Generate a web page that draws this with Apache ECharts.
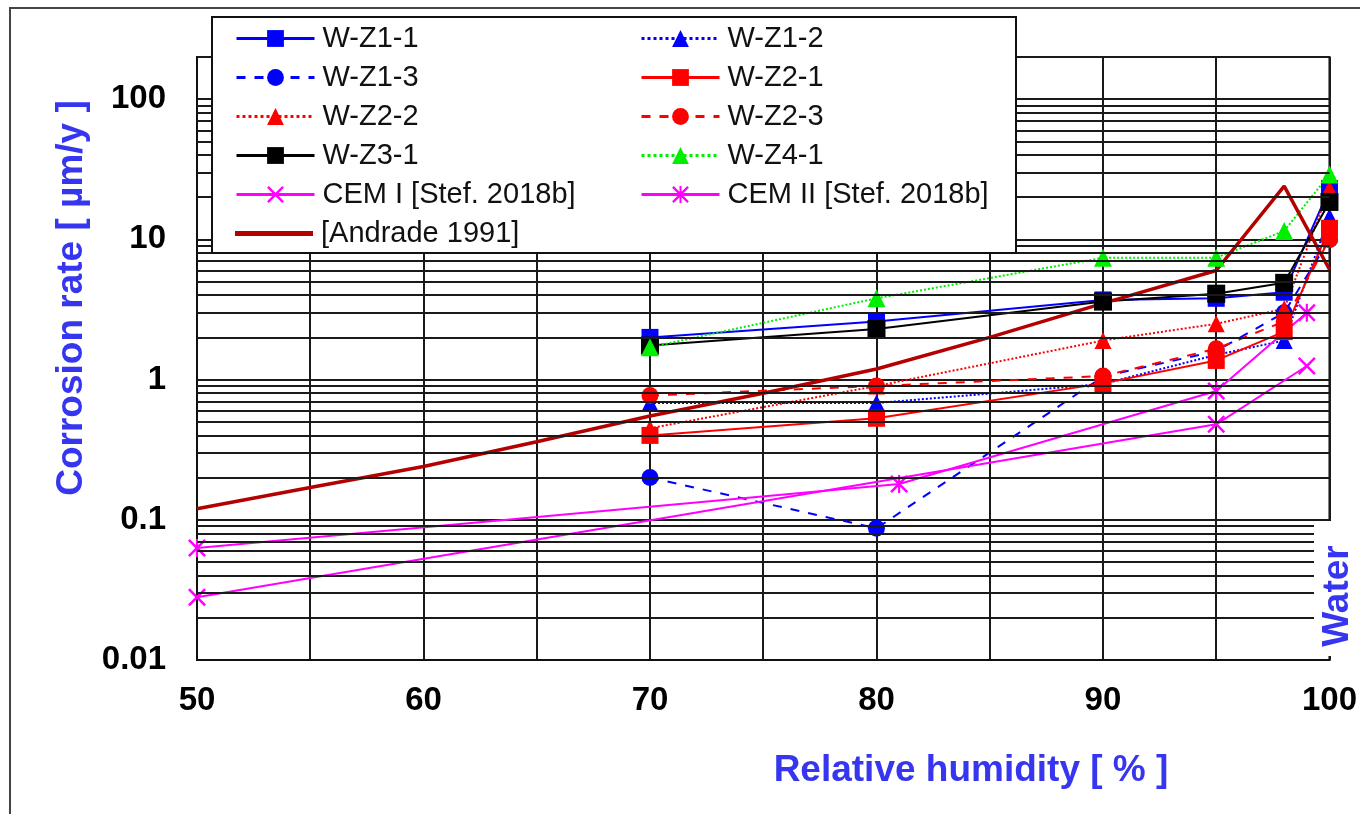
<!DOCTYPE html>
<html>
<head>
<meta charset="utf-8">
<script src="https://cdn.jsdelivr.net/npm/echarts@6/dist/echarts.min.js"></script>
<style>
html,body{margin:0;padding:0;background:#fff;}
#chart{width:1360px;height:814px;}
</style>
</head>
<body>
<div id="chart"></div>
<script>
// ---- data ----
const humidity = [70, 80, 90, 95, 98, 100];
const wZ1_1 = [2.0, 2.6, 3.7, 3.8, 4.2, 23];
const wZ1_2 = [0.68, 0.68, 0.93, 1.5, 1.9, 14.5];
const wZ1_3 = [0.20, 0.087, 1.05, 1.6, 3.0, 10];
const wZ2_1 = [0.40, 0.53, 0.94, 1.37, 2.2, 12];
const wZ2_2 = [0.45, 0.90, 1.9, 2.5, 3.2, 23];
const wZ2_3 = [0.77, 0.90, 1.06, 1.66, 2.6, 10];
const wZ3_1 = [1.75, 2.3, 3.6, 4.1, 4.9, 18.5];
const wZ4_1 = [1.7, 3.8, 7.4, 7.4, 11.5, 29];
const cem1X = [50, 95, 99];
const cem1Y = [0.028, 0.48, 1.25];
const cem2X = [50, 81, 95, 99];
const cem2Y = [0.063, 0.18, 0.83, 3.0];
const andradeX = [50, 55, 60, 65, 70, 75, 80, 85, 90, 95, 98, 100];
const andradeY = [0.12, 0.17, 0.24, 0.36, 0.55, 0.80, 1.19, 2.0, 3.5, 6.0, 24, 6.1];
const minorGrid = [0.02,0.03,0.04,0.05,0.06,0.07,0.08,0.09,
                   0.2,0.3,0.4,0.5,0.6,0.7,0.8,0.9,
                   2,3,4,5,6,7,8,9,
                   20,30,40,50,60,70,80,90];
const legendCol1 = ['W-Z1-1','W-Z1-3','W-Z2-2','W-Z3-1','CEM I [Stef. 2018b]'];
const legendCol2 = ['W-Z1-2','W-Z2-1','W-Z2-3','W-Z4-1','CEM II [Stef. 2018b]'];
const legendCol3 = ['[Andrade 1991]'];

const FONT = '"Liberation Sans", Arial, sans-serif';
const symX = 'path://M0,10 L10,0 L50,40 L90,0 L100,10 L60,50 L100,90 L90,100 L50,60 L10,100 L0,90 L40,50 Z';
const symAst = 'path://M0,10 L10,0 L50,40 L90,0 L100,10 L60,50 L100,90 L90,100 L50,60 L10,100 L0,90 L40,50 Z M44,0 L56,0 L56,100 L44,100 Z';

function pairs(xs, ys){ return xs.map((x,i)=>[x, ys[i]]); }

function mk(name, ys, color, type, symbol, size){
  return {
    name, type:'line', data: pairs(humidity, ys),
    symbol, symbolSize: size,
    lineStyle:{color, width:2, type},
    itemStyle:{color},
    z: 3
  };
}

const series = [
  {
    name:'minor', type:'line', data:[], silent:true, z:1,
    markLine:{silent:true, symbol:['none','none'], label:{show:false},
      lineStyle:{color:'#1a1a1a', width:2, type:'solid'},
      data: minorGrid.map(v=>({yAxis:v}))},
  },
  mk('W-Z1-1', wZ1_1, '#0000ff', 'solid', 'rect', 17),
  mk('W-Z1-2', wZ1_2, '#0000ff', 'dotted', 'triangle', 17),
  mk('W-Z1-3', wZ1_3, '#0000ff', [9,9], 'circle', 17),
  mk('W-Z2-1', wZ2_1, '#ff0000', 'solid', 'rect', 17),
  mk('W-Z2-2', wZ2_2, '#ff0000', 'dotted', 'triangle', 17),
  mk('W-Z2-3', wZ2_3, '#ff0000', [9,9], 'circle', 17),
  mk('W-Z3-1', wZ3_1, '#000000', 'solid', 'rect', 18),
  mk('W-Z4-1', wZ4_1, '#00ee00', 'dotted', 'triangle', 18),
  {
    name:'CEM I [Stef. 2018b]', type:'line', data: pairs(cem1X, cem1Y),
    symbol: symX, symbolSize: 18, lineStyle:{color:'#ff00ff', width:2},
    itemStyle:{color:'#ff00ff'}, z:3
  },
  {
    name:'CEM II [Stef. 2018b]', type:'line', data: pairs(cem2X, cem2Y),
    symbol: symAst, symbolSize: 18, lineStyle:{color:'#ff00ff', width:2},
    itemStyle:{color:'#ff00ff'}, z:3
  },
  {
    name:'[Andrade 1991]', type:'line', data: pairs(andradeX, andradeY),
    symbol:'none', lineStyle:{color:'#b40000', width:3.5},
    itemStyle:{color:'#b40000'}, z:3
  }
];

const legendBase = {
  orient:'vertical', top:24, padding:0, itemGap:10,
  itemWidth:78, itemHeight:21, z:20,
  lineStyle:{width:3},
  textStyle:{fontSize:29, fontFamily:FONT, color:'#111', padding:[0,0,0,3]},
  selectedMode:false
};

const chart = echarts.init(document.getElementById('chart'));
chart.setOption({
  backgroundColor:'#fff',
  animation:false,
  grid:{left:197, right:28, top:57, bottom:154, show:true, borderColor:'#111', borderWidth:2, containLabel:false},
  legend:[
    Object.assign({}, legendBase, {left:235, data:legendCol1}),
    Object.assign({}, legendBase, {left:640, data:legendCol2}),
    Object.assign({}, legendBase, {left:235, top:219, itemHeight:5, icon:'rect', data:legendCol3})
  ],
  xAxis:{
    type:'value', min:50, max:100, interval:5,
    axisLine:{show:true, lineStyle:{color:'#111', width:2}},
    axisTick:{show:false},
    splitLine:{show:true, lineStyle:{color:'#1a1a1a', width:2}},
    axisLabel:{fontSize:33, fontWeight:'bold', fontFamily:FONT, color:'#000', margin:24,
      formatter: v => (v % 10 === 0 ? String(v) : '')}
  },
  yAxis:{
    type:'log', logBase:10, min:0.01, max:200,
    axisLine:{show:true, lineStyle:{color:'#111', width:2}},
    axisTick:{show:false},
    splitLine:{show:true, lineStyle:{color:'#1a1a1a', width:2}},
    axisLabel:{fontSize:33, fontWeight:'bold', fontFamily:FONT, color:'#000', margin:31,
      formatter: v => { const l = Math.log10(v); return Math.abs(l - Math.round(l)) < 1e-6 ? String(Number(v.toPrecision(3))) : ''; }}
  },
  graphic:[
    {type:'rect', z:0, silent:true, shape:{x:10, y:8, width:1400, height:900},
      style:{fill:'none', stroke:'#444', lineWidth:2}},
    {type:'rect', z:10, silent:true, shape:{x:212, y:17, width:804, height:236},
      style:{fill:'#fff', stroke:'#111', lineWidth:2}},
    {type:'rect', z:10, silent:true, shape:{x:1314, y:521, width:45, height:135},
      style:{fill:'#fff', stroke:'none'}},
    {type:'text', z:11, x:1338, y:596, rotation:Math.PI/2, silent:true,
      style:{text:'Water', align:'center', verticalAlign:'middle', font:'bold 37px ' + FONT, fill:'#3636f0'}},
    {type:'text', z:11, x:72, y:298, rotation:Math.PI/2, silent:true,
      style:{text:'Corrosion rate [ µm/y ]', align:'center', verticalAlign:'middle', font:'bold 37px ' + FONT, fill:'#3636f0'}},
    {type:'text', z:11, x:971, y:771, silent:true,
      style:{text:'Relative humidity [ % ]', align:'center', verticalAlign:'middle', font:'bold 37px ' + FONT, fill:'#3636f0'}}
  ],
  series
});
</script>
</body>
</html>
